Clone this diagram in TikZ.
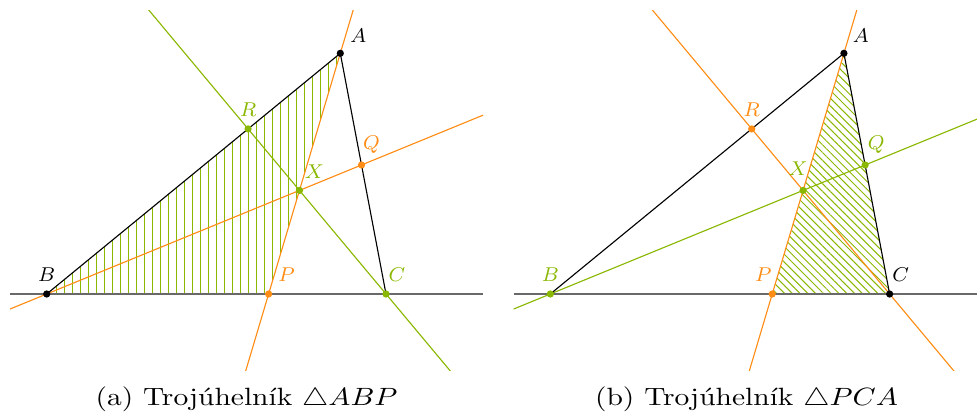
\documentclass[tikz,border=0pt]{standalone}
\usepackage{graphicx}
\usetikzlibrary{calc,patterns.meta}
\definecolor{myorange}{RGB}{255,140,20}
\definecolor{mygreen}{RGB}{138,183,0}
\definecolor{mygray}{RGB}{105,105,105}
\begin{document}
\begin{tikzpicture}[x=0.4pt,y=-0.4pt,
  thinline/.style={line width=0.45pt},
  baseline/.style={line width=0.8pt,draw=mygray},
  dot/.style={circle,inner sep=0pt,minimum size=2.9pt},
  lbl/.style={font=\fontsize{7.6}{9}\selectfont,inner sep=0pt},
  capt/.style={font=\fontsize{10}{12}\selectfont,inner sep=0pt}]
\useasboundingbox (0,0) rectangle (977,419);

% ---------- left panel ----------
\begin{scope}
\coordinate (B) at (46.7,294);
\coordinate (A) at (340.3,53.3);
\coordinate (C) at (386,294);
\coordinate (P) at ($(B)!0.654!(C)$);
\coordinate (Q) at ($(A)!0.464!(C)$);
\coordinate (X) at (intersection of A--P and B--Q);
\coordinate (R) at (intersection of C--X and A--B);
\fill[pattern={Lines[angle=90,distance=3.2pt,line width=0.4pt]},pattern color=mygreen] (A)--(B)--(P)--cycle;
\begin{scope}
\clip (10,11) rectangle (483,370);
\draw[baseline] (10,294) -- (483,294);
\draw[myorange,thinline] ($(A)!-3!(P)$) -- ($(A)!4!(P)$);
\draw[myorange,thinline] ($(B)!-3!(Q)$) -- ($(B)!4!(Q)$);
\draw[mygreen,thinline] ($(C)!-3!(R)$) -- ($(C)!4!(R)$);
\end{scope}
\draw[thinline,black] (B) -- (A) -- (C);
\node[dot,fill=black] (la) at (A) {};
\node[dot,fill=black] (lb) at (B) {};
\node[dot,fill=mygreen] (lc) at (C) {};
\node[dot,fill=myorange] (lp) at (P) {};
\node[dot,fill=myorange] (lq) at (Q) {};
\node[dot,fill=mygreen] (lr) at (R) {};
\node[dot,fill=mygreen] (lx) at (X) {};
\node[lbl,text=black] (tla) at ($(A)+(18,-18)$) {$A$};
\node[lbl,text=black] (tlb) at ($(B)+(0,-19)$) {$B$};
\node[lbl,text=mygreen] (tlc) at ($(C)+(11,-19)$) {$C$};
\node[lbl,text=myorange] (tlp) at ($(P)+(18,-19)$) {$P$};
\node[lbl,text=myorange] (tlq) at ($(Q)+(10,-20)$) {$Q$};
\node[lbl,text=mygreen] (tlr) at ($(R)+(0,-19)$) {$R$};
\node[lbl,text=mygreen] (tlx) at ($(X)+(15,-19)$) {$X$};
\node[capt] (capa) at (246.5,399.7) {\scalebox{1.18}[1]{(a) Trojúhelník $\triangle ABP$}};
\end{scope}

% ---------- right panel ----------
\begin{scope}[xshift=201.44pt]
\coordinate (B) at (46.7,294);
\coordinate (A) at (340.3,53.3);
\coordinate (C) at (386,294);
\coordinate (P) at ($(B)!0.654!(C)$);
\coordinate (Q) at ($(A)!0.464!(C)$);
\coordinate (X) at (intersection of A--P and B--Q);
\coordinate (R) at (intersection of C--X and A--B);
\fill[pattern={Lines[angle=-45,distance=2.2pt,line width=0.4pt]},pattern color=mygreen] (P)--(C)--(A)--cycle;
\begin{scope}
\clip (10,11) rectangle (473.4,370);
\draw[baseline] (10,294) -- (473.4,294);
\draw[myorange,thinline] ($(A)!-3!(P)$) -- ($(A)!4!(P)$);
\draw[mygreen,thinline] ($(B)!-3!(Q)$) -- ($(B)!4!(Q)$);
\draw[myorange,thinline] ($(C)!-3!(R)$) -- ($(C)!4!(R)$);
\end{scope}
\draw[thinline,black] (B) -- (A) -- (C);
\node[dot,fill=black] (ra) at (A) {};
\node[dot,fill=mygreen] (rb) at (B) {};
\node[dot,fill=black] (rc) at (C) {};
\node[dot,fill=myorange] (rp) at (P) {};
\node[dot,fill=mygreen] (rq) at (Q) {};
\node[dot,fill=myorange] (rr) at (R) {};
\node[dot,fill=mygreen] (rx) at (X) {};
\node[lbl,text=black] (tra) at ($(A)+(17,-18)$) {$A$};
\node[lbl,text=mygreen] (trb) at ($(B)+(0,-19)$) {$B$};
\node[lbl,text=black] (trc) at ($(C)+(11,-19)$) {$C$};
\node[lbl,text=myorange] (trp) at ($(P)+(-9,-19)$) {$P$};
\node[lbl,text=mygreen] (trq) at ($(Q)+(11,-20)$) {$Q$};
\node[lbl,text=myorange] (trr) at ($(R)+(0,-19)$) {$R$};
\node[lbl,text=mygreen] (trx) at ($(X)+(-5,-22)$) {$X$};
\node[capt] (capb) at (242.9,399.7) {\scalebox{1.18}[1]{(b) Trojúhelník $\triangle PCA$}};
\end{scope}
\end{tikzpicture}
\end{document}
